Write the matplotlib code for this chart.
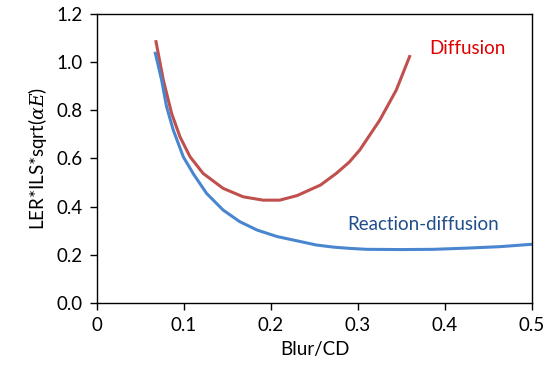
import matplotlib
matplotlib.use("Agg")
import matplotlib.pyplot as plt

plt.rcParams['font.family'] = ['Lato', 'DejaVu Sans']
plt.rcParams['mathtext.fontset'] = 'custom'
plt.rcParams['mathtext.it'] = 'DejaVu Serif:italic'

# Diffusion curve (red)
diff_x = [0.0675, 0.0763, 0.0858, 0.0954, 0.107, 0.122, 0.145, 0.168, 0.191, 0.210,
          0.230, 0.257, 0.275, 0.290, 0.302, 0.325, 0.344, 0.360]
diff_y = [1.091, 0.925, 0.787, 0.690, 0.607, 0.538, 0.476, 0.441, 0.427, 0.427,
          0.446, 0.490, 0.538, 0.585, 0.635, 0.759, 0.884, 1.029]

# Reaction-diffusion curve (blue)
rd_x = [0.0667, 0.0743, 0.080, 0.0877, 0.0992, 0.111, 0.126, 0.145, 0.164, 0.184,
        0.207, 0.229, 0.252, 0.272, 0.290, 0.310, 0.350, 0.387, 0.425, 0.463, 0.500]
rd_y = [1.043, 0.925, 0.815, 0.718, 0.607, 0.535, 0.455, 0.386, 0.338, 0.303,
        0.276, 0.259, 0.241, 0.232, 0.227, 0.223, 0.222, 0.223, 0.228, 0.234, 0.244]

xticks = [0, 0.1, 0.2, 0.3, 0.4, 0.5]
xticklabels = ['0', '0.1', '0.2', '0.3', '0.4', '0.5']
yticks = [0.0, 0.2, 0.4, 0.6, 0.8, 1.0, 1.2]
yticklabels = ['0.0', '0.2', '0.4', '0.6', '0.8', '1.0', '1.2']

FS = 13.5

fig = plt.figure(figsize=(5.51, 3.76), dpi=100)
ax = fig.add_axes([0.176, 0.194, 0.9655 - 0.176, 0.963 - 0.194])

ax.plot(diff_x, diff_y, color='#C0504D', lw=2.2, solid_capstyle='butt', solid_joinstyle='round')
ax.plot(rd_x, rd_y, color='#4A86CF', lw=2.2, solid_capstyle='butt', solid_joinstyle='round')

ax.set_xlim(0, 0.5)
ax.set_ylim(0, 1.2)
ax.set_xticks(xticks)
ax.set_xticklabels(xticklabels)
ax.set_yticks(yticks)
ax.set_yticklabels(yticklabels)
ax.tick_params(direction='out', length=5, width=1, labelsize=FS, colors='#000000', pad=5)

for s in ax.spines.values():
    s.set_linewidth(1.0)
    s.set_color('#000000')

ax.set_xlabel('Blur/CD', fontsize=FS, labelpad=5)
ax.set_ylabel(r'LER*ILS*sqrt($\alpha E$)', fontsize=FS, labelpad=6)

ax.text(0.382, 1.055, 'Diffusion', color='#E00000', fontsize=FS, ha='left', va='center')
ax.text(0.288, 0.325, 'Reaction-diffusion', color='#1F4E8C', fontsize=FS, ha='left', va='center')

fig.savefig('out.png', dpi=100)
